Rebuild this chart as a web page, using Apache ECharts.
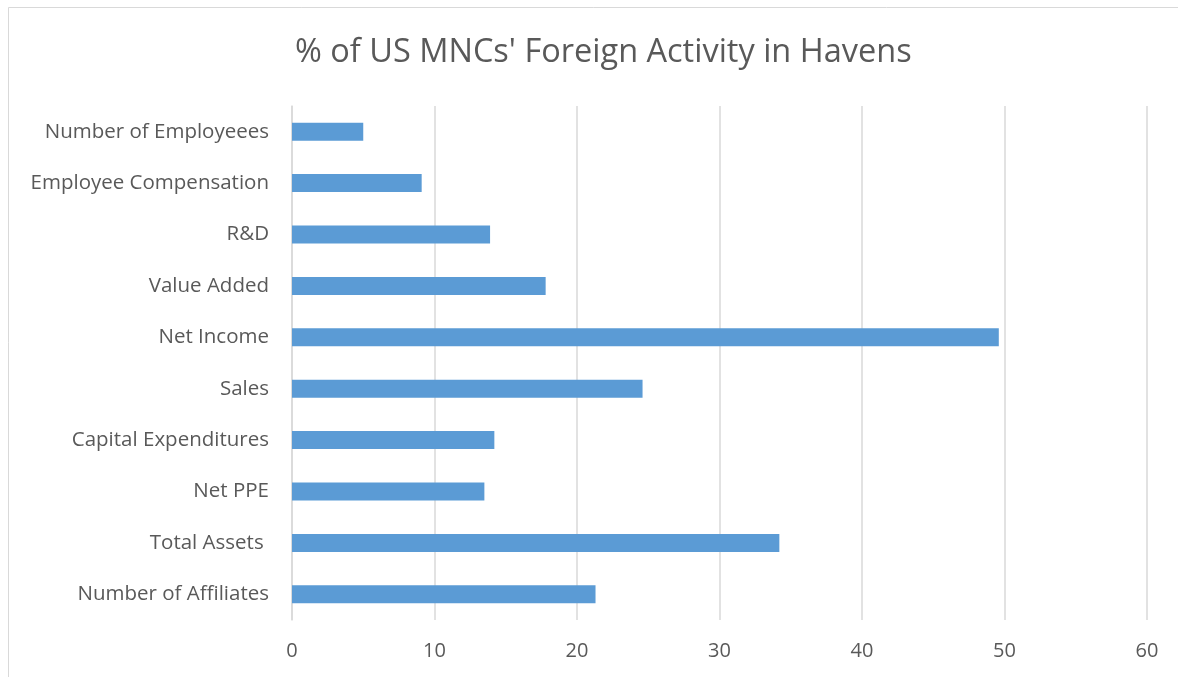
<!DOCTYPE html>
<html>
<head>
<meta charset="utf-8">
<style>
html,body{margin:0;padding:0;background:#fff;}
#c{width:1178px;height:677px;}
</style>
<script src="https://cdn.jsdelivr.net/npm/echarts@6/dist/echarts.min.js"></script>
</head>
<body>
<div id="c"></div>
<script>
const categories = ["Number of Affiliates","Total Assets ","Net PPE","Capital Expenditures","Sales","Net Income","Value Added","R&D","Employee Compensation","Number of Employeees"];
const values = [21.3, 34.2, 13.5, 14.2, 24.6, 49.6, 17.8, 13.9, 9.1, 5.0];
const xTicks = {min: 0, max: 60, interval: 10};
const titleText = "% of US MNCs' Foreign Activity in Havens";

const chart = echarts.init(document.getElementById('c'));
chart.setOption({
  animation: false,
  backgroundColor: '#fff',
  title: {
    text: titleText,
    left: 290,
    top: 31,
    textStyle: {fontFamily: 'Open Sans', fontWeight: 'normal', fontSize: 32.5, color: '#595959'}
  },
  graphic: [{
    type: 'rect', silent: true,
    shape: {x: 8.5, y: 7.5, width: 1200, height: 700},
    style: {fill: 'none', stroke: '#d9d9d9', lineWidth: 1}
  }],
  grid: {left: 292, right: 31, top: 106, bottom: 57, containLabel: false},
  xAxis: {
    type: 'value', min: xTicks.min, max: xTicks.max, interval: xTicks.interval,
    axisLine: {show: false}, axisTick: {show: false},
    splitLine: {lineStyle: {color: '#d9d9d9', width: 1.5}},
    axisLabel: {margin: 21, fontFamily: 'Open Sans', fontSize: 20, color: '#595959'}
  },
  yAxis: {
    type: 'category', data: categories,
    axisLine: {show: true, lineStyle: {color: '#d9d9d9', width: 1.5}},
    axisTick: {show: false},
    axisLabel: {margin: 23, fontFamily: 'Open Sans', fontSize: 20.5, color: '#595959'}
  },
  series: [{
    type: 'bar', data: values, barCategoryGap: '65%',
    itemStyle: {color: '#5b9bd5'}
  }]
});
</script>
</body>
</html>
